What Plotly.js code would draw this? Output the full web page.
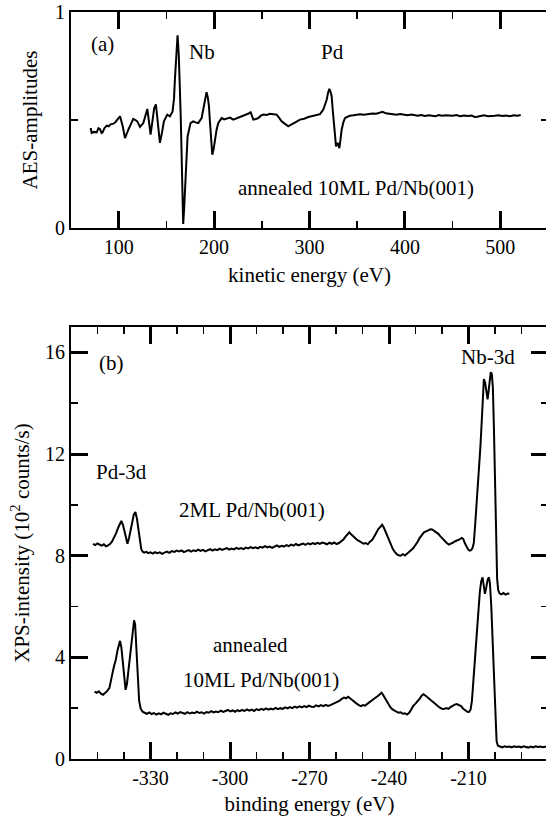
<!DOCTYPE html>
<html>
<head>
<meta charset="utf-8">
<script src="https://cdn.plot.ly/plotly-3.0.1.min.js"></script>
<style>
html,body{margin:0;padding:0;overflow:hidden;background:#fff;}
#chart{width:548px;height:817px;}
</style>
</head>
<body>
<div id="chart"></div>
<script>
// ---------- (a) AES spectrum ----------
const aesEnergy = [70.6,71.7,74.0,76.9,78.8,80.4,82.0,83.2,85.0,87.4,89.5,91.5,94.4,96.5,98.6,101.4,104.2,106.6,110.1,112.8,115.3,117.5,119.5,122.3,125.8,128.0,130.0,131.8,133.4,135.5,137.2,139.0,141.2,143.2,145.3,147.4,150.9,153.7,156.5,158.0,158.9,160.4,161.7,163.0,164.1,165.0,165.9,166.8,167.6,168.6,169.7,171.0,172.2,175.3,178.1,180.6,183.4,186.9,188.3,189.7,191.0,192.1,193.4,194.6,195.5,196.3,197.2,198.1,199.5,200.9,202.6,204.4,207.9,210.5,213.1,216.6,220.1,223.6,227.1,230.6,234.1,236.2,238.3,239.8,241.1,243.7,246.3,249.0,251.6,255.1,258.6,262.1,265.6,268.2,270.8,274.3,277.8,280.4,283.0,286.5,290.0,294.4,298.8,303.1,307.5,311.0,314.5,316.3,318.0,319.4,320.8,322.0,323.2,324.5,325.7,326.8,327.8,328.7,329.5,330.4,331.3,332.5,333.7,335.5,337.2,339.9,342.5,346.0,349.4,353,357,362,366,370,374,376.7,380,384,388,391.3,395,399,403,407,410,413.3,417,421,425,429,432,435.3,439,443,447,450,454,458,462,466,470,473,475.6,479,483,487,491,494,498,502,506,510,514,518,521.4];
const aesAmplitude = [0.463,0.440,0.445,0.443,0.462,0.458,0.440,0.443,0.462,0.474,0.471,0.480,0.483,0.490,0.502,0.517,0.471,0.416,0.455,0.482,0.505,0.500,0.494,0.468,0.486,0.520,0.551,0.490,0.432,0.500,0.555,0.572,0.470,0.394,0.440,0.494,0.525,0.517,0.540,0.600,0.687,0.820,0.892,0.800,0.687,0.520,0.347,0.150,0.019,0.090,0.192,0.330,0.424,0.486,0.494,0.489,0.486,0.509,0.540,0.579,0.615,0.629,0.605,0.564,0.500,0.440,0.370,0.339,0.365,0.409,0.455,0.486,0.509,0.503,0.505,0.511,0.502,0.508,0.514,0.519,0.525,0.530,0.536,0.520,0.502,0.505,0.509,0.520,0.525,0.523,0.529,0.527,0.525,0.510,0.494,0.482,0.471,0.478,0.486,0.493,0.502,0.506,0.514,0.518,0.525,0.527,0.548,0.570,0.594,0.625,0.644,0.632,0.610,0.540,0.471,0.410,0.378,0.385,0.394,0.382,0.370,0.410,0.455,0.490,0.509,0.515,0.520,0.522,0.525,0.527,0.524,0.528,0.530,0.529,0.533,0.538,0.531,0.530,0.527,0.525,0.528,0.524,0.522,0.525,0.521,0.520,0.523,0.519,0.522,0.520,0.517,0.523,0.520,0.522,0.519,0.520,0.523,0.518,0.521,0.519,0.521,0.514,0.515,0.519,0.522,0.518,0.521,0.520,0.522,0.519,0.521,0.518,0.522,0.520,0.523];

// ---------- (b) XPS spectra ----------
const xps2MLEnergy = [-351.7,-350.9,-350.0,-349.2,-348.4,-347.6,-346.8,-346.0,-345.2,-344.5,-343.8,-343.0,-342.2,-341.5,-341.0,-340.4,-339.8,-339.2,-338.7,-338.1,-337.5,-336.9,-336.3,-335.7,-335.1,-334.5,-334.0,-333.5,-333.0,-332.4,-331.6,-330.8,-330.0,-329.1,-328.3,-327.4,-326.5,-325.6,-324.7,-323.8,-322.9,-322.0,-321.0,-320.1,-319.2,-318.3,-317.4,-316.5,-315.6,-314.7,-313.8,-312.9,-312.0,-311.1,-310.2,-309.3,-308.4,-307.5,-306.6,-305.7,-304.8,-303.9,-303.0,-302.1,-301.2,-300.3,-299.4,-298.5,-297.6,-296.7,-295.8,-294.9,-294.0,-293.1,-292.2,-291.3,-290.4,-289.5,-288.6,-287.7,-286.8,-285.9,-285.0,-284.1,-283.2,-282.3,-281.4,-280.5,-279.6,-278.7,-277.8,-276.9,-276.0,-275.1,-274.2,-273.3,-272.4,-271.5,-270.6,-269.7,-268.8,-267.9,-267.0,-266.1,-265.2,-264.3,-263.4,-262.5,-261.6,-260.7,-259.8,-258.9,-258.0,-257.2,-256.4,-255.6,-255.0,-254.4,-253.6,-252.8,-252.0,-251.2,-250.4,-249.6,-248.8,-248.0,-247.2,-246.4,-245.6,-244.8,-244.0,-243.2,-242.6,-242.0,-241.3,-240.6,-239.9,-239.2,-238.5,-237.8,-237.1,-236.4,-235.6,-234.8,-234.0,-233.2,-232.4,-231.6,-230.8,-230.0,-229.2,-228.4,-227.6,-226.8,-226.0,-225.2,-224.4,-223.7,-223.0,-222.2,-221.4,-220.6,-219.8,-219.0,-218.2,-217.4,-216.6,-215.8,-215.0,-214.2,-213.4,-212.6,-212.0,-211.4,-210.8,-210.2,-209.6,-209.0,-208.5,-208.0,-207.5,-207.0,-206.5,-206.0,-205.5,-205.0,-204.6,-204.2,-203.7,-203.2,-202.8,-202.4,-202.0,-201.6,-201.2,-200.8,-200.4,-200.0,-199.6,-199.2,-198.8,-198.3,-197.6,-196.8,-196.0,-195.2,-194.6];
const xps2MLIntensity = [8.47,8.42,8.48,8.44,8.40,8.45,8.37,8.41,8.47,8.56,8.70,8.88,9.10,9.30,9.37,9.22,8.95,8.62,8.47,8.70,9.05,9.40,9.62,9.72,9.45,9.00,8.55,8.27,8.16,8.12,8.15,8.10,8.13,8.08,8.14,8.10,8.13,8.07,8.12,8.16,8.11,8.18,8.15,8.20,8.17,8.21,8.14,8.19,8.22,8.16,8.21,8.18,8.24,8.19,8.23,8.17,8.22,8.26,8.20,8.25,8.22,8.28,8.23,8.27,8.30,8.24,8.28,8.25,8.31,8.27,8.30,8.26,8.32,8.29,8.34,8.30,8.33,8.29,8.35,8.32,8.38,8.33,8.36,8.31,8.37,8.41,8.35,8.39,8.36,8.42,8.38,8.44,8.40,8.46,8.41,8.45,8.48,8.43,8.49,8.45,8.50,8.46,8.51,8.47,8.52,8.49,8.45,8.51,8.47,8.52,8.46,8.50,8.56,8.64,8.75,8.86,8.92,8.85,8.76,8.68,8.62,8.57,8.52,8.47,8.50,8.45,8.55,8.62,8.75,8.92,9.06,9.14,9.22,9.12,8.95,8.76,8.55,8.38,8.25,8.15,8.06,8.02,8.00,8.06,8.01,8.08,8.14,8.22,8.30,8.41,8.55,8.70,8.83,8.92,8.96,9.00,9.04,9.03,8.98,8.93,8.86,8.76,8.66,8.57,8.50,8.44,8.47,8.52,8.57,8.60,8.64,8.70,8.66,8.50,8.36,8.26,8.20,8.22,8.30,8.50,9.20,9.90,10.70,11.50,12.30,13.30,14.30,14.95,14.80,14.40,14.15,14.50,15.05,15.22,15.15,14.60,13.00,11.00,8.60,7.10,6.65,6.52,6.48,6.53,6.47,6.51,6.50];

const xps10MLEnergy = [-351.1,-350.3,-349.5,-348.7,-347.9,-347.1,-346.3,-345.5,-344.9,-344.3,-343.7,-343.1,-342.5,-341.9,-341.5,-341.0,-340.5,-340.0,-339.4,-338.9,-338.3,-337.8,-337.2,-336.7,-336.2,-335.8,-335.3,-334.8,-334.3,-333.7,-333.0,-332.2,-331.4,-330.5,-329.6,-328.7,-327.8,-326.9,-326.0,-325.1,-324.2,-323.3,-322.4,-321.5,-320.6,-319.7,-318.8,-317.9,-317.0,-316.1,-315.2,-314.3,-313.4,-312.5,-311.6,-310.7,-309.8,-308.9,-308.0,-307.1,-306.2,-305.3,-304.4,-303.5,-302.6,-301.7,-300.8,-299.9,-299.0,-298.1,-297.2,-296.3,-295.4,-294.5,-293.6,-292.7,-291.8,-290.9,-290.0,-289.1,-288.2,-287.3,-286.4,-285.5,-284.6,-283.7,-282.8,-281.9,-281.0,-280.1,-279.2,-278.3,-277.4,-276.5,-275.6,-274.7,-273.8,-272.9,-272.0,-271.1,-270.2,-269.3,-268.4,-267.5,-266.6,-265.7,-264.8,-263.9,-263.0,-262.1,-261.2,-260.3,-259.4,-258.6,-257.8,-257.0,-256.2,-255.4,-254.6,-253.8,-253.0,-252.2,-251.4,-250.6,-249.8,-249.0,-248.2,-247.4,-246.6,-245.8,-245.0,-244.2,-243.4,-242.8,-242.2,-241.6,-240.9,-240.2,-239.5,-238.8,-238.0,-237.2,-236.4,-235.6,-234.8,-234.0,-233.2,-232.4,-231.6,-230.8,-230.0,-229.2,-228.4,-227.6,-227.0,-226.3,-225.6,-224.8,-224.0,-223.2,-222.4,-221.6,-220.8,-220.0,-219.2,-218.4,-217.6,-216.8,-216.0,-215.2,-214.4,-213.6,-212.8,-212.0,-211.2,-210.4,-209.8,-209.2,-208.7,-208.2,-207.7,-207.2,-206.7,-206.2,-205.7,-205.2,-204.7,-204.3,-203.8,-203.3,-202.8,-202.3,-201.9,-201.4,-200.9,-200.4,-199.9,-199.4,-198.9,-198.2,-197.3,-196.4,-195.5,-194.6,-193.7,-192.8,-191.9,-191.0,-190.1,-189.2,-188.3,-187.4,-186.5,-185.6,-184.7,-183.8,-182.9,-182.0,-181.1,-180.2,-179.5];
const xps10MLIntensity = [2.65,2.60,2.66,2.57,2.53,2.60,2.68,2.80,3.05,3.40,3.68,3.90,4.25,4.58,4.65,4.40,3.80,3.20,2.72,2.95,3.55,3.90,4.40,5.10,5.46,5.30,4.40,3.10,2.30,1.98,1.86,1.82,1.78,1.83,1.77,1.81,1.75,1.80,1.76,1.82,1.78,1.74,1.80,1.77,1.83,1.79,1.85,1.80,1.78,1.84,1.79,1.83,1.80,1.86,1.81,1.84,1.79,1.85,1.82,1.88,1.83,1.87,1.84,1.90,1.85,1.89,1.93,1.87,1.91,1.86,1.92,1.88,1.93,1.89,1.95,1.90,1.94,1.89,1.96,1.92,1.97,1.93,1.99,1.94,1.98,1.95,2.01,1.96,2.00,1.97,2.03,1.99,2.04,2.00,2.06,2.02,2.07,2.03,2.08,2.04,2.10,2.06,2.05,2.11,2.07,2.12,2.08,2.13,2.09,2.12,2.16,2.20,2.26,2.30,2.37,2.42,2.39,2.45,2.38,2.30,2.24,2.18,2.12,2.08,2.12,2.10,2.17,2.24,2.30,2.36,2.42,2.48,2.55,2.61,2.52,2.40,2.28,2.15,2.04,1.96,1.90,1.86,1.82,1.84,1.78,1.80,1.75,1.82,1.95,2.10,2.18,2.26,2.38,2.50,2.55,2.50,2.44,2.36,2.28,2.20,2.13,2.07,2.02,1.98,1.97,2.00,1.97,2.04,2.10,2.14,2.16,2.13,2.08,1.98,1.90,1.86,1.85,1.95,2.30,3.10,3.90,4.60,5.20,5.90,6.60,7.00,7.15,6.90,6.50,6.75,7.05,7.15,6.90,6.00,4.60,3.00,1.60,0.70,0.52,0.48,0.46,0.50,0.47,0.49,0.46,0.50,0.47,0.49,0.46,0.50,0.48,0.45,0.49,0.46,0.50,0.47,0.49,0.46,0.48,0.47,0.47];

// tick labels
const aesTickVals = [100,200,300,400,500];
const aesTickText = ["100","200","300","400","500"];
const aesMinorVals = [50,150,250,350,450,550];
const aesYTickVals = [0,1];
const aesYTickText = ["0","1"];
const aesYMinorVals = [0.5];
const xpsTickVals = [-330,-300,-270,-240,-210];
const xpsTickText = ["-330","-300","-270","-240","-210"];
const xpsMinorVals = [-350,-340,-320,-310,-290,-280,-260,-250,-230,-220,-200,-190];
const xpsYTickVals = [0,4,8,12,16];
const xpsYTickText = ["0","4","8","12","16"];
const xpsYMinorVals = [2,6,10,14];

const FONT = "Liberation Serif, DejaVu Serif, serif";
const lineStyle = {color:"#000", width:2};

const traces = [
  {x:aesEnergy, y:aesAmplitude, xaxis:"x", yaxis:"y", mode:"lines", line:lineStyle, name:"AES"},
  {x:xps2MLEnergy, y:xps2MLIntensity, xaxis:"x2", yaxis:"y2", mode:"lines", line:lineStyle, name:"2ML"},
  {x:xps10MLEnergy, y:xps10MLIntensity, xaxis:"x2", yaxis:"y2", mode:"lines", line:lineStyle, name:"10ML"}
];

function axisCommon(extra){
  return Object.assign({
    showline:true, linecolor:"#000", linewidth:2, mirror:"ticks",
    ticks:"inside", ticklen:17, tickwidth:3, tickcolor:"#000",
    showgrid:false, zeroline:false, tickmode:"array",
    tickfont:{family:FONT, size:20, color:"#000"}
  }, extra);
}
const minorStyle = {ticks:"inside", ticklen:7, tickwidth:1.5, tickcolor:"#000", showgrid:false, tickmode:"array"};
const titleFont = {family:FONT, size:21, color:"#000"};

const layout = {
  width:548, height:817,
  margin:{l:71, r:0, t:12, b:58},
  paper_bgcolor:"#fff", plot_bgcolor:"#fff",
  showlegend:false,
  font:{family:FONT, color:"#000"},
  xaxis: axisCommon({anchor:"y", domain:[0,1], range:[50,550],
    tickvals:aesTickVals, ticktext:aesTickText,
    minor:Object.assign({tickvals:aesMinorVals}, minorStyle),
    title:{text:"kinetic energy (eV)", font:titleFont, standoff:10}}),
  yaxis: axisCommon({anchor:"x", domain:[0.7108,1], range:[0,1],
    tickvals:aesYTickVals, ticktext:aesYTickText,
    minor:Object.assign({tickvals:aesYMinorVals}, minorStyle),
    title:{text:"AES-amplitudes", font:titleFont, standoff:12}}),
  xaxis2: axisCommon({anchor:"y2", domain:[0,1], range:[-360,-180],
    tickvals:xpsTickVals, ticktext:xpsTickText,
    minor:Object.assign({tickvals:xpsMinorVals}, minorStyle),
    title:{text:"binding energy (eV)", font:titleFont, standoff:8}}),
  yaxis2: axisCommon({anchor:"x2", domain:[0,0.5783], range:[0,17],
    tickvals:xpsYTickVals, ticktext:xpsYTickText,
    minor:Object.assign({tickvals:xpsYMinorVals}, minorStyle),
    title:{text:"XPS-intensity (10<sup>2</sup> counts/s)", font:titleFont, standoff:10}}),
  annotations:[
    {xref:"x", yref:"y", x:82.5, y:0.85, text:"(a)"},
    {xref:"x", yref:"y", x:187.3, y:0.817, text:"Nb"},
    {xref:"x", yref:"y", x:323.6, y:0.817, text:"Pd"},
    {xref:"x", yref:"y", x:348.7, y:0.186, text:"annealed 10ML Pd/Nb(001)"},
    {xref:"x2", yref:"y2", x:-344.9, y:15.58, text:"(b)"},
    {xref:"x2", yref:"y2", x:-202.6, y:15.82, text:"Nb-3d"},
    {xref:"x2", yref:"y2", x:-341.1, y:11.31, text:"Pd-3d"},
    {xref:"x2", yref:"y2", x:-291.7, y:9.80, text:"2ML Pd/Nb(001)"},
    {xref:"x2", yref:"y2", x:-292.1, y:4.49, text:"annealed"},
    {xref:"x2", yref:"y2", x:-288.3, y:3.11, text:"10ML Pd/Nb(001)"}
  ].map(a => Object.assign({showarrow:false, xanchor:"center", yanchor:"middle",
    font:{family:FONT, size:21, color:"#000"}}, a))
};

Plotly.newPlot("chart", traces, layout, {displayModeBar:false, staticPlot:true});
</script>
</body>
</html>
